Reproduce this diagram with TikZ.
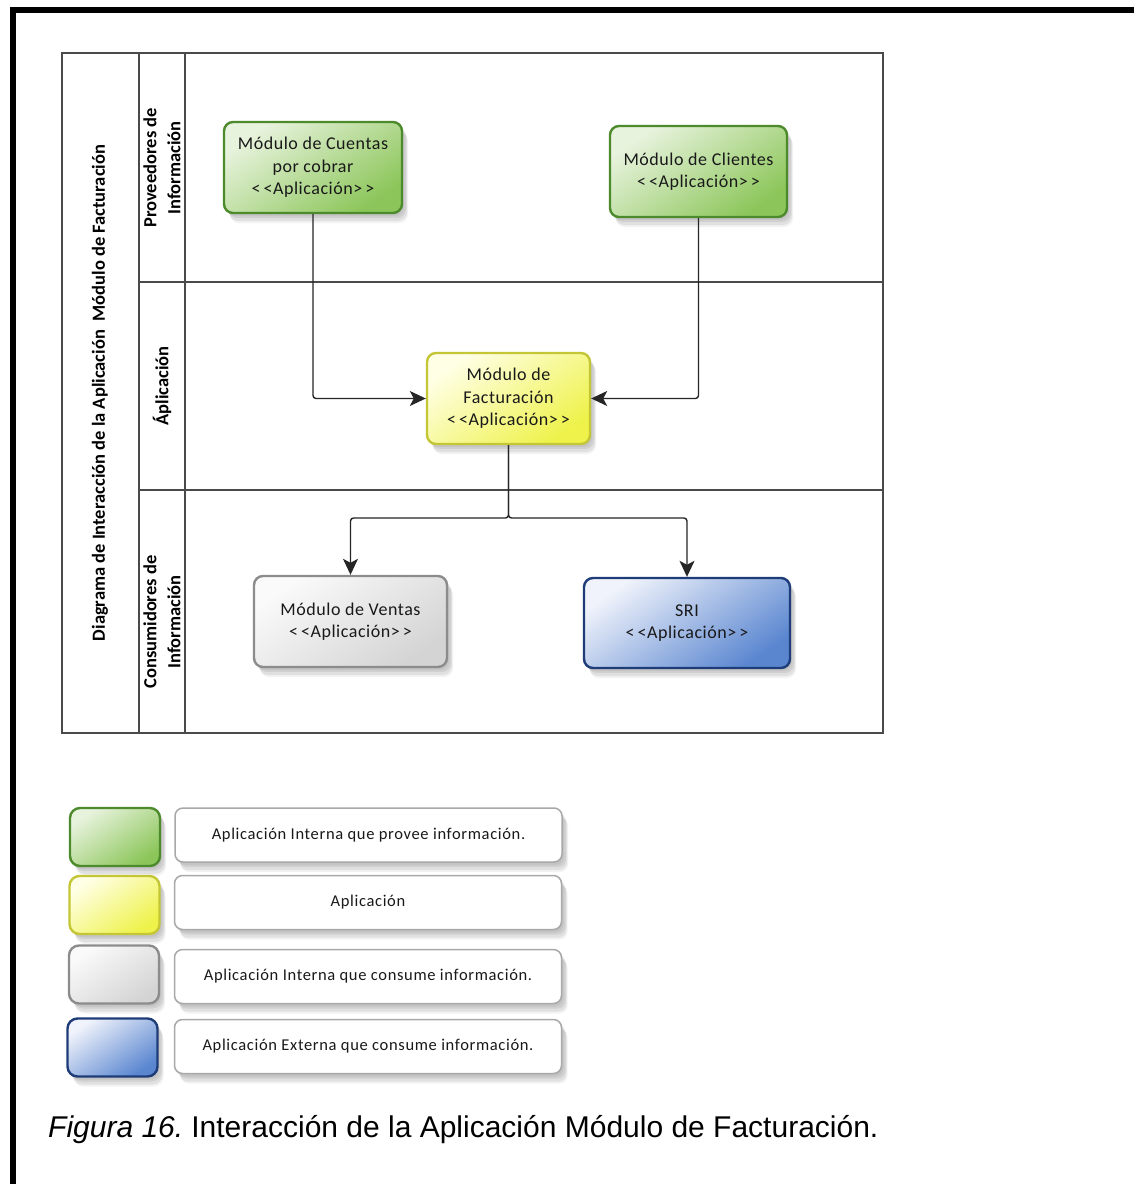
\documentclass[tikz,border=0pt]{standalone}
\usepackage{fontspec}
\setmainfont{Carlito}
\newfontfamily\nodefont{Carlito}[LetterSpace=3]
\newfontfamily\legfont{Carlito}[LetterSpace=4]
\newfontfamily\capfont{Liberation Sans}
\usetikzlibrary{shadows,arrows.meta}

\definecolor{greenL}{HTML}{E8F3DE}
\definecolor{greenD}{HTML}{8CC65A}
\definecolor{greenB}{HTML}{4C8A2C}
\definecolor{yelL}{HTML}{FFFFE6}
\definecolor{yelD}{HTML}{EEF24A}
\definecolor{yelB}{HTML}{C4C635}
\definecolor{grayL}{HTML}{FAFAFA}
\definecolor{grayD}{HTML}{D4D4D4}
\definecolor{grayB}{HTML}{8C8C8C}
\definecolor{blueL}{HTML}{F0F3FB}
\definecolor{blueD}{HTML}{5A86D0}
\definecolor{blueB}{HTML}{1E3C78}
\definecolor{laneC}{HTML}{4A4A4A}
\definecolor{legB}{HTML}{A8A8A8}

\tikzset{
  softshadow/.style={
    general shadow={fill=black, opacity=0.06, shadow xshift=2pt, shadow yshift=-3pt},
    general shadow={fill=black, opacity=0.07, shadow xshift=4pt, shadow yshift=-5pt},
    general shadow={fill=black, opacity=0.07, shadow xshift=5pt, shadow yshift=-8pt},
    general shadow={fill=black, opacity=0.05, shadow xshift=6pt, shadow yshift=-10pt}},
  app/.style={rectangle, rounded corners=9pt, line width=2.4pt, align=center,
    text=black!90, font=\nodefont\fontsize{18}{22.5}\selectfont, softshadow},
  appgreen/.style={draw=greenB, top color=greenL, bottom color=greenD, shading angle=35},
  appyellow/.style={draw=yelB, top color=yelL, bottom color=yelD, shading angle=35},
  appgray/.style={draw=grayB, top color=grayL, bottom color=grayD, shading angle=35},
  appblue/.style={draw=blueB, top color=blueL, bottom color=blueD, shading angle=35},
  lane/.style={draw=laneC, line width=1.2pt},
  lanelabel/.style={rotate=90, align=center, font=\bfseries\fontsize{18.5}{24}\selectfont},
  arr/.style={draw=black!85, line width=1.4pt, rounded corners=3pt,
    -{Stealth[length=16pt,width=15pt,inset=4pt]}},
  legsw/.style={rectangle, rounded corners=10pt, line width=2.4pt,
    minimum width=90pt, minimum height=58pt, softshadow},
  legtext/.style={rectangle, rounded corners=8pt, draw=legB, line width=1.5pt, fill=white,
    minimum width=387pt, minimum height=54pt, text=black!90,
    font=\legfont\fontsize{16.5}{19}\selectfont, softshadow},
}

\begin{document}
\begin{tikzpicture}[x=1pt,y=-1pt]
\useasboundingbox (0,0) rectangle (1134,1184);
\fill[white] (0,0) rectangle (1134,1184);

% page frame
\draw[line width=6pt, line join=miter] (13,1190) -- (13,10) -- (1140,10);

% swimlane grid
\draw[lane] (62,53) rectangle (883,733);
\draw[lane] (139,53) -- (139,733);
\draw[lane] (185,53) -- (185,733);
\draw[lane] (139,282) -- (883,282);
\draw[lane] (139,490) -- (883,490);

% lane headings
\node[lanelabel] (title) at (100,393) {Diagrama de Interacción de la Aplicación\ \ Módulo de Facturación};
\node[lanelabel] (prov) at (162,168) {Proveedores de\\Información};
\node[lanelabel] (apl) at (162,386) {Áplicación};
\node[lanelabel] (cons) at (162,622) {Consumidores de\\Información};

% applications
\node[app, appgreen, minimum width=178pt, minimum height=91pt] (cuentas) at (313,167.5)
  {Módulo de Cuentas\\por cobrar\\<\,<Aplicación>\,>};
\node[app, appgreen, minimum width=177pt, minimum height=91pt] (clientes) at (698.5,171.5)
  {Módulo de Clientes\\<\,<Aplicación>\,>};
\node[app, appyellow, minimum width=163pt, minimum height=91pt] (factura) at (508.5,398.5)
  {Módulo de\\Facturación\\<\,<Aplicación>\,>};
\node[app, appgray, minimum width=193pt, minimum height=91pt] (ventas) at (350.5,621.5)
  {Módulo de Ventas\\<\,<Aplicación>\,>};
\node[app, appblue, minimum width=206pt, minimum height=90pt] (sri) at (687,623)
  {SRI\\<\,<Aplicación>\,>};

% information flows
\draw[arr] (cuentas.south) |- (factura.west);
\draw[arr] (clientes.south) |- (factura.east);
\coordinate (split) at (508.5,518);
\draw[arr] (factura.south) -- (split) -| (ventas.north);
\draw[arr] (factura.south) -- (split) -| (sri.north);

% legend
\node[legsw, appgreen] (k1) at (115,837) {};
\node[legsw, appyellow] (k2) at (114.5,905) {};
\node[legsw, appgray] (k3) at (114,974.5) {};
\node[legsw, appblue] (k4) at (112.5,1047.5) {};
\node[legtext] (d1) at (368.5,835) {Aplicación Interna que provee información.};
\node[legtext] (d2) at (368,902.5) {Aplicación};
\node[legtext] (d3) at (368,976.5) {Aplicación Interna que consume información.};
\node[legtext] (d4) at (368,1046.5) {Aplicación Externa que consume información.};

% caption
\node[anchor=base west, inner sep=0pt, font=\capfont\fontsize{30}{36}\selectfont] (cap) at (48,1137)
  {\textit{Figura 16.}\kern-3pt{} Interacción de la Aplicación Módulo de Facturación.};
\end{tikzpicture}
\end{document}
